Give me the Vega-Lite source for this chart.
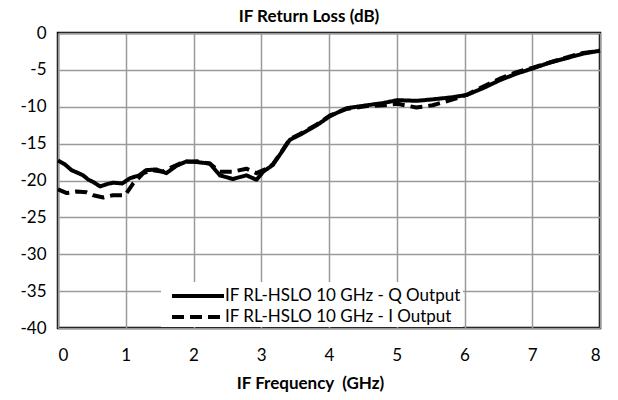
{
  "$schema": "https://vega.github.io/schema/vega-lite/v6.json",
  "width": 542,
  "height": 295,
  "autosize": "none",
  "padding": {"left": 58, "top": 33, "right": 18, "bottom": 72},
  "background": "white",
  "title": {"text": "IF Return Loss (dB)", "font": "Lato", "fontSize": 17, "fontWeight": "bold", "color": "black", "anchor": "middle", "offset": -2, "dx": -20},
  "config": {
    "view": {"stroke": "black", "strokeWidth": 2.5},
    "axis": {"labelFont": "Lato", "labelFontSize": 17, "labelColor": "black", "titleFont": "Lato", "titleFontSize": 17, "titleFontWeight": "bold", "titleColor": "black", "gridColor": "#9a9a9a", "gridWidth": 1.5, "gridOpacity": 1, "domain": false, "ticks": false, "labelOverlap": false}
  },
  "data": {"values": [
    {"f": 0, "rl": -17.3, "s": "IF RL-HSLO 10 GHz - Q Output"},
    {"f": 0.1, "rl": -17.8, "s": "IF RL-HSLO 10 GHz - Q Output"},
    {"f": 0.2, "rl": -18.6, "s": "IF RL-HSLO 10 GHz - Q Output"},
    {"f": 0.3, "rl": -19.0, "s": "IF RL-HSLO 10 GHz - Q Output"},
    {"f": 0.37, "rl": -19.3, "s": "IF RL-HSLO 10 GHz - Q Output"},
    {"f": 0.45, "rl": -19.9, "s": "IF RL-HSLO 10 GHz - Q Output"},
    {"f": 0.52, "rl": -20.2, "s": "IF RL-HSLO 10 GHz - Q Output"},
    {"f": 0.62, "rl": -20.8, "s": "IF RL-HSLO 10 GHz - Q Output"},
    {"f": 0.72, "rl": -20.5, "s": "IF RL-HSLO 10 GHz - Q Output"},
    {"f": 0.81, "rl": -20.3, "s": "IF RL-HSLO 10 GHz - Q Output"},
    {"f": 0.95, "rl": -20.4, "s": "IF RL-HSLO 10 GHz - Q Output"},
    {"f": 1.06, "rl": -19.7, "s": "IF RL-HSLO 10 GHz - Q Output"},
    {"f": 1.2, "rl": -19.3, "s": "IF RL-HSLO 10 GHz - Q Output"},
    {"f": 1.3, "rl": -18.6, "s": "IF RL-HSLO 10 GHz - Q Output"},
    {"f": 1.45, "rl": -18.5, "s": "IF RL-HSLO 10 GHz - Q Output"},
    {"f": 1.6, "rl": -19.0, "s": "IF RL-HSLO 10 GHz - Q Output"},
    {"f": 1.75, "rl": -18.0, "s": "IF RL-HSLO 10 GHz - Q Output"},
    {"f": 1.9, "rl": -17.4, "s": "IF RL-HSLO 10 GHz - Q Output"},
    {"f": 2.05, "rl": -17.5, "s": "IF RL-HSLO 10 GHz - Q Output"},
    {"f": 2.24, "rl": -17.7, "s": "IF RL-HSLO 10 GHz - Q Output"},
    {"f": 2.39, "rl": -19.3, "s": "IF RL-HSLO 10 GHz - Q Output"},
    {"f": 2.58, "rl": -19.8, "s": "IF RL-HSLO 10 GHz - Q Output"},
    {"f": 2.78, "rl": -19.3, "s": "IF RL-HSLO 10 GHz - Q Output"},
    {"f": 2.93, "rl": -19.9, "s": "IF RL-HSLO 10 GHz - Q Output"},
    {"f": 3.03, "rl": -18.8, "s": "IF RL-HSLO 10 GHz - Q Output"},
    {"f": 3.17, "rl": -17.9, "s": "IF RL-HSLO 10 GHz - Q Output"},
    {"f": 3.32, "rl": -15.9, "s": "IF RL-HSLO 10 GHz - Q Output"},
    {"f": 3.42, "rl": -14.5, "s": "IF RL-HSLO 10 GHz - Q Output"},
    {"f": 3.57, "rl": -13.8, "s": "IF RL-HSLO 10 GHz - Q Output"},
    {"f": 3.82, "rl": -12.5, "s": "IF RL-HSLO 10 GHz - Q Output"},
    {"f": 4.01, "rl": -11.3, "s": "IF RL-HSLO 10 GHz - Q Output"},
    {"f": 4.26, "rl": -10.2, "s": "IF RL-HSLO 10 GHz - Q Output"},
    {"f": 4.56, "rl": -9.8, "s": "IF RL-HSLO 10 GHz - Q Output"},
    {"f": 4.8, "rl": -9.5, "s": "IF RL-HSLO 10 GHz - Q Output"},
    {"f": 5.01, "rl": -9.1, "s": "IF RL-HSLO 10 GHz - Q Output"},
    {"f": 5.29, "rl": -9.2, "s": "IF RL-HSLO 10 GHz - Q Output"},
    {"f": 5.53, "rl": -9.0, "s": "IF RL-HSLO 10 GHz - Q Output"},
    {"f": 5.83, "rl": -8.7, "s": "IF RL-HSLO 10 GHz - Q Output"},
    {"f": 6.03, "rl": -8.4, "s": "IF RL-HSLO 10 GHz - Q Output"},
    {"f": 6.27, "rl": -7.5, "s": "IF RL-HSLO 10 GHz - Q Output"},
    {"f": 6.52, "rl": -6.4, "s": "IF RL-HSLO 10 GHz - Q Output"},
    {"f": 6.77, "rl": -5.5, "s": "IF RL-HSLO 10 GHz - Q Output"},
    {"f": 7.01, "rl": -4.8, "s": "IF RL-HSLO 10 GHz - Q Output"},
    {"f": 7.26, "rl": -4.0, "s": "IF RL-HSLO 10 GHz - Q Output"},
    {"f": 7.51, "rl": -3.4, "s": "IF RL-HSLO 10 GHz - Q Output"},
    {"f": 7.75, "rl": -2.8, "s": "IF RL-HSLO 10 GHz - Q Output"},
    {"f": 8.0, "rl": -2.4, "s": "IF RL-HSLO 10 GHz - Q Output"},
    {"f": 0, "rl": -21.2, "s": "IF RL-HSLO 10 GHz - I Output"},
    {"f": 0.13, "rl": -21.7, "s": "IF RL-HSLO 10 GHz - I Output"},
    {"f": 0.27, "rl": -21.5, "s": "IF RL-HSLO 10 GHz - I Output"},
    {"f": 0.42, "rl": -21.6, "s": "IF RL-HSLO 10 GHz - I Output"},
    {"f": 0.52, "rl": -22.0, "s": "IF RL-HSLO 10 GHz - I Output"},
    {"f": 0.67, "rl": -22.3, "s": "IF RL-HSLO 10 GHz - I Output"},
    {"f": 0.81, "rl": -22.0, "s": "IF RL-HSLO 10 GHz - I Output"},
    {"f": 0.99, "rl": -22.0, "s": "IF RL-HSLO 10 GHz - I Output"},
    {"f": 1.11, "rl": -20.4, "s": "IF RL-HSLO 10 GHz - I Output"},
    {"f": 1.26, "rl": -19.0, "s": "IF RL-HSLO 10 GHz - I Output"},
    {"f": 1.4, "rl": -18.6, "s": "IF RL-HSLO 10 GHz - I Output"},
    {"f": 1.55, "rl": -18.8, "s": "IF RL-HSLO 10 GHz - I Output"},
    {"f": 1.7, "rl": -18.1, "s": "IF RL-HSLO 10 GHz - I Output"},
    {"f": 1.85, "rl": -17.5, "s": "IF RL-HSLO 10 GHz - I Output"},
    {"f": 2.05, "rl": -17.4, "s": "IF RL-HSLO 10 GHz - I Output"},
    {"f": 2.24, "rl": -17.7, "s": "IF RL-HSLO 10 GHz - I Output"},
    {"f": 2.39, "rl": -18.8, "s": "IF RL-HSLO 10 GHz - I Output"},
    {"f": 2.58, "rl": -18.8, "s": "IF RL-HSLO 10 GHz - I Output"},
    {"f": 2.78, "rl": -18.4, "s": "IF RL-HSLO 10 GHz - I Output"},
    {"f": 2.93, "rl": -19.0, "s": "IF RL-HSLO 10 GHz - I Output"},
    {"f": 3.08, "rl": -18.4, "s": "IF RL-HSLO 10 GHz - I Output"},
    {"f": 3.17, "rl": -17.8, "s": "IF RL-HSLO 10 GHz - I Output"},
    {"f": 3.32, "rl": -15.8, "s": "IF RL-HSLO 10 GHz - I Output"},
    {"f": 3.42, "rl": -14.4, "s": "IF RL-HSLO 10 GHz - I Output"},
    {"f": 3.57, "rl": -13.7, "s": "IF RL-HSLO 10 GHz - I Output"},
    {"f": 3.82, "rl": -12.4, "s": "IF RL-HSLO 10 GHz - I Output"},
    {"f": 4.01, "rl": -11.2, "s": "IF RL-HSLO 10 GHz - I Output"},
    {"f": 4.26, "rl": -10.3, "s": "IF RL-HSLO 10 GHz - I Output"},
    {"f": 4.56, "rl": -9.9, "s": "IF RL-HSLO 10 GHz - I Output"},
    {"f": 4.8, "rl": -9.8, "s": "IF RL-HSLO 10 GHz - I Output"},
    {"f": 5.01, "rl": -9.6, "s": "IF RL-HSLO 10 GHz - I Output"},
    {"f": 5.29, "rl": -10.1, "s": "IF RL-HSLO 10 GHz - I Output"},
    {"f": 5.53, "rl": -9.8, "s": "IF RL-HSLO 10 GHz - I Output"},
    {"f": 5.83, "rl": -9.0, "s": "IF RL-HSLO 10 GHz - I Output"},
    {"f": 6.03, "rl": -8.4, "s": "IF RL-HSLO 10 GHz - I Output"},
    {"f": 6.27, "rl": -7.3, "s": "IF RL-HSLO 10 GHz - I Output"},
    {"f": 6.52, "rl": -6.2, "s": "IF RL-HSLO 10 GHz - I Output"},
    {"f": 6.77, "rl": -5.3, "s": "IF RL-HSLO 10 GHz - I Output"},
    {"f": 7.01, "rl": -4.7, "s": "IF RL-HSLO 10 GHz - I Output"},
    {"f": 7.26, "rl": -4.0, "s": "IF RL-HSLO 10 GHz - I Output"},
    {"f": 7.51, "rl": -3.3, "s": "IF RL-HSLO 10 GHz - I Output"},
    {"f": 7.75, "rl": -2.7, "s": "IF RL-HSLO 10 GHz - I Output"},
    {"f": 8.0, "rl": -2.4, "s": "IF RL-HSLO 10 GHz - I Output"}
  ]},
  "mark": {"type": "line", "color": "black", "strokeWidth": 4, "strokeJoin": "round"},
  "encoding": {
    "x": {"field": "f", "type": "quantitative", "scale": {"domain": [0, 8], "nice": false}, "axis": {"title": "IF Frequency\u00a0 (GHz)", "values": [0,1,2,3,4,5,6,7,8], "labelPadding": 19, "titlePadding": 12, "titleX": 252}},
    "y": {"field": "rl", "type": "quantitative", "scale": {"domain": [-40, 0], "nice": false}, "axis": {"title": null, "values": [-40,-35,-30,-25,-20,-15,-10,-5,0], "labelPadding": 12, "labelExpr": "toString(datum.value)"}},
    "strokeDash": {
      "field": "s", "type": "nominal",
      "sort": ["IF RL-HSLO 10 GHz - Q Output", "IF RL-HSLO 10 GHz - I Output"],
      "scale": {"domain": ["IF RL-HSLO 10 GHz - Q Output", "IF RL-HSLO 10 GHz - I Output"], "range": [[1, 0], [12, 6]]},
      "legend": {"title": null, "orient": "none", "legendX": 103, "legendY": 249, "fillColor": "white", "padding": 2, "labelFont": "Lato", "labelFontSize": 17, "labelColor": "black", "labelLimit": 400, "symbolType": "M-2.6,0H2.6", "symbolSize": 400, "symbolStrokeWidth": 4, "symbolStrokeColor": "black", "symbolOffset": 23, "rowPadding": 1, "labelOffset": 15}
    }
  }
}
